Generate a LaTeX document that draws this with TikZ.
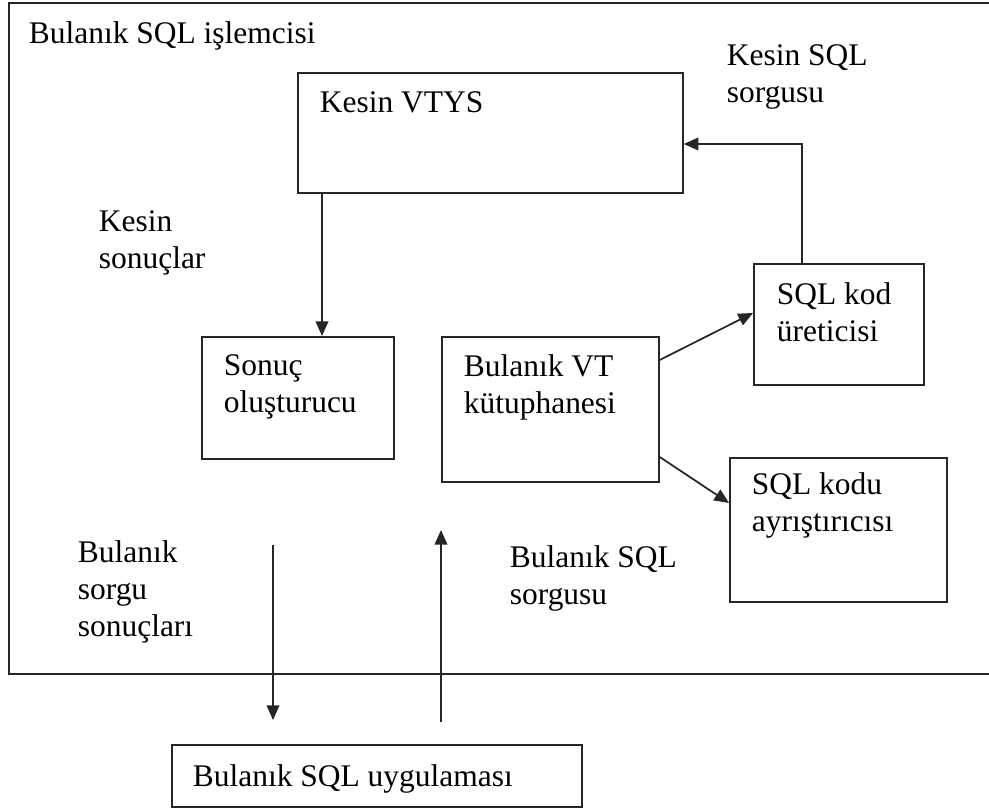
\documentclass[tikz,border=0pt]{standalone}
\usepackage{fontspec}
\setmainfont{Liberation Serif}
\usetikzlibrary{calc,arrows.meta}

\tikzset{
	sqlpicture/.style = {
		x = 0.75pt,
		y = -0.75pt,
		line width = 1.3pt,
		arrow/.style = {
			draw = black!85,
			-{Triangle[length=11pt, width=9.5pt]},
		}
	},
	sqlbox/.style = {
		draw = black!85,
		anchor = north west,
		inner sep = 0pt
	},
	sqltext/.style = {
		anchor = north west,
		align = left,
		inner sep = 0pt,
		font = \fontsize{23.6pt}{27.75pt}\selectfont
	}
}

\begin{document}
\begin{tikzpicture}[sqlpicture]
	\useasboundingbox (0,0) rectangle (989,809);

	\node[sqlbox, minimum width = 744pt, minimum height = 503.25pt] (proc) at (8,2) {};
	\node[sqlbox, minimum width = 288.75pt, minimum height = 90pt] (vtys) at (297,72) {};
	\node[sqlbox, minimum width = 144pt, minimum height = 91.5pt] (sonuc) at (201,336) {};
	\node[sqlbox, minimum width = 162.75pt, minimum height = 108.75pt] (bvt) at (441,336) {};
	\node[sqlbox, minimum width = 127.5pt, minimum height = 90.75pt] (kod) at (753,263) {};
	\node[sqlbox, minimum width = 162.75pt, minimum height = 108pt] (kodu) at (729,457) {};
	\node[sqlbox, minimum width = 307.5pt, minimum height = 46.5pt] (app) at (171,744) {};

	\node[sqltext] (proc-t) at ($(proc.north west)+(20,18.5)$) {Bulanık SQL işlemcisi};
	\node[sqltext] (vtys-t) at ($(vtys.north west)+(22,18.5)$) {Kesin VTYS};
	\node[sqltext] (sonuc-t) at ($(sonuc.north west)+(22,17.5)$) {Sonuç\\oluşturucu};
	\node[sqltext] (bvt-t) at ($(bvt.north west)+(22,17.5)$) {Bulanık VT\\kütuphanesi};
	\node[sqltext] (kod-t) at ($(kod.north west)+(23,18.5)$) {SQL kod\\üreticisi};
	\node[sqltext] (kodu-t) at ($(kodu.north west)+(22,14.5)$) {SQL kodu\\ayrıştırıcısı};
	\node[sqltext] (app-t) at ($(app.north west)+(21,19.5)$) {Bulanık SQL uygulaması};

	\node[sqltext] (kesin-sorgu) at (726,43.5) {Kesin SQL\\sorgusu};
	\node[sqltext] (kesin-sonuc) at (98,209.5) {Kesin\\sonuçlar};
	\node[sqltext] (bulanik-sonuc) at (77,539.5) {Bulanık\\sorgu\\sonuçları};
	\node[sqltext] (bulanik-sorgu) at (509,544.5) {Bulanık SQL\\sorgusu};

	\coordinate (vtys-out) at ($(vtys.south west)+(25,0)$);
	\coordinate (vtys-in) at ($(vtys.north east)+(0,72)$);
	\coordinate (kod-out) at ($(kod.north west)+(49,0)$);
	\coordinate (kod-in) at ($(kod.north west)+(0,50)$);
	\coordinate (bvt-out1) at ($(bvt.north east)+(0,24)$);
	\coordinate (bvt-out2) at ($(bvt.north east)+(0,121)$);
	\coordinate (kodu-in) at ($(kodu.north west)+(0,46)$);
	\coordinate (res-start) at ($(app.north west)+(102,-199)$);
	\coordinate (res-end) at ($(app.north west)+(102,-24)$);
	\coordinate (qry-start) at ($(app.north west)+(270,-22)$);
	\coordinate (qry-end) at ($(app.north west)+(270,-214)$);

	\begin{scope}[every path/.style = arrow]
		\path (vtys-out) -- (vtys-out |- sonuc.north);
		\path (kod-out) |- (vtys-in);
		\path (bvt-out1) -- (kod-in);
		\path (bvt-out2) -- (kodu-in);
		\path (res-start) -- (res-end);
		\path (qry-start) -- (qry-end);
	\end{scope}
\end{tikzpicture}
\end{document}
